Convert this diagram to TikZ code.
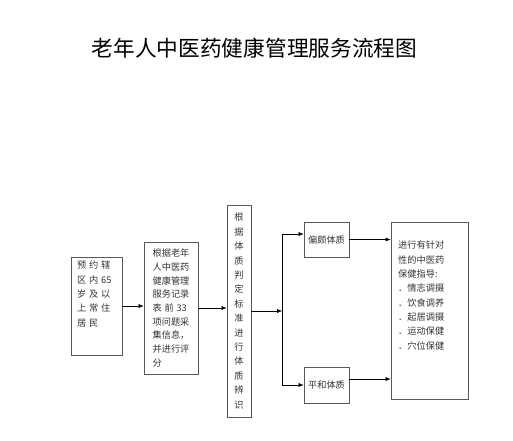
\documentclass[tikz,border=0pt]{standalone}
\usepackage{fontspec}
\setmainfont{Noto Sans CJK SC}
\newcommand{\gap}{\hspace{2.8pt}}
\usetikzlibrary{positioning,arrows.meta}

\begin{document}
\begin{tikzpicture}[x=1pt, y=-1pt, font=\fontsize{9.2}{13.7}\selectfont, >={Latex[length=5pt,width=4pt]},
  u/.style={draw=black!65, line width=0.8pt, inner sep=0pt, align=center},
  t/.style={inner sep=0pt, align=left, text=black!80}]
\useasboundingbox (0,0) rectangle (513,440);
\node[font=\fontsize{21.7}{25}\selectfont] (title) at (254.5,48) {老年人中医药健康管理服务流程图};
% boxes
\node[u, minimum width=51, minimum height=98] (b1) at (96.5,306) {};
\node[t, anchor=north west, font=\fontsize{9.2}{14.3}\selectfont] (t1) at (77,261)
  {预\gap 约\gap 辖\\区\gap 内\gap 65\\岁\gap 及\gap 以\\上\gap 常\gap 住\\居\gap 民};
\node[u, minimum width=54, minimum height=132, align=left, text=black!80] (b2) at (171,308)
  {根据老年\\人中医药\\健康管理\\服务记录\\表\gap 前\gap 33\\项问题采\\集信息，\\并进行评\\分};
\node[u, minimum width=24, minimum height=212, text=black!80, font=\fontsize{9.2}{14.4}\selectfont] (b3) at (239,311)
  {根\\据\\体\\质\\判\\定\\标\\准\\进\\行\\体\\质\\辨\\识};
\node[u, minimum width=45, minimum height=35, text=black!80] (b4) at (326.5,239.5) {偏颇体质};
\node[u, minimum width=45, minimum height=36, text=black!80] (b5) at (326.5,385) {平和体质};
\node[u, minimum width=77, minimum height=177] (b6) at (429.5,310.5) {};
\node[t, anchor=north west, font=\fontsize{9.2}{14.3}\selectfont] (t6) at (398,241)
  {进行有针对\\性的中医药\\保健指导:\\．情志调摄\\．饮食调养\\．起居调摄\\．运动保健\\．穴位保健};
% connectors
\coordinate (j) at (282,311);
\draw[->] (b1.east) -- (b1.east -| b2.west);
\draw[->] (b2.east) -- (b2.east -| b3.west);
\draw[->] (b3.east) -- (j);
\draw[->] (j) |- ([yshift=5.5]b4.west);
\draw[->] (j) |- (b5.west);
\draw[->] (b4.east) -- (b4.east -| b6.west);
\draw[->] ([yshift=6]b5.east) -- ([yshift=6]b5.east -| b6.west);
\end{tikzpicture}
\end{document}
